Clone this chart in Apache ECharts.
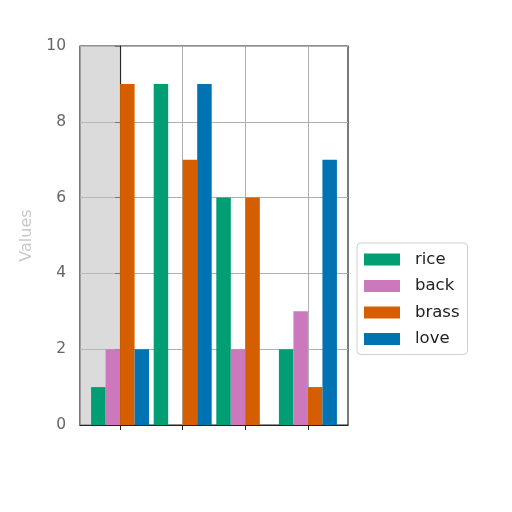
<!DOCTYPE html>
<html><head><meta charset="utf-8">
<script src="https://cdn.jsdelivr.net/npm/echarts@6/dist/echarts.min.js"></script>
<style>html,body{margin:0;padding:0;background:#fff}#c{width:512px;height:512px}</style>
</head><body><div id="c"></div>
<script>
const groups = [0, 1, 2, 3];
const seriesNames = ['rice', 'back', 'brass', 'love'];
const rice  = [1, 9, 6, 2];
const back  = [2, 0, 2, 3];
const brass = [9, 7, 6, 1];
const love  = [2, 9, 0, 7];
const yTicks = [0, 2, 4, 6, 8, 10];
const colors = ['#029E73', '#CC78BC', '#D55E00', '#0173B2'];
const values = [rice, back, brass, love];

const chart = echarts.init(document.getElementById('c'));
chart.setOption({
  animation: false,
  grid: { left: 80, right: 164, top: 46, bottom: 87, show: true, borderColor: '#222', borderWidth: 1.2, backgroundColor: 'transparent' },
  legend: {
    orient: 'vertical', left: 357, top: 243,
    data: seriesNames,
    itemWidth: 36, itemHeight: 12, itemGap: 9.5,
    padding: [8, 8, 7, 7],
    borderColor: '#cfcfcf', borderWidth: 1, borderRadius: 4,
    textStyle: { fontFamily: 'DejaVu Sans', fontSize: 16.5, color: '#222', padding: [0, 0, 0, 10] },
    icon: 'rect'
  },
  xAxis: {
    type: 'value', min: -0.64, max: 3.64, interval: 1,
    axisLine: { show: true, lineStyle: { color: '#222', width: 1.2 } },
    axisTick: { show: true, length: 5, lineStyle: { color: '#222' }, customValues: groups },
    axisLabel: { show: false },
    splitLine: { show: true, lineStyle: { color: '#b0b0b0', width: 1 }, customValues: groups }
  },
  yAxis: {
    type: 'value', min: 0, max: 10, interval: 2,
    name: 'Values', nameLocation: 'middle', nameGap: 45,
    nameTextStyle: { color: '#c8c8c8', fontSize: 16, fontFamily: 'DejaVu Sans' },
    axisLine: { show: true, lineStyle: { color: '#222', width: 1.2 } },
    axisTick: { show: true, length: 5, lineStyle: { color: '#222' } },
    axisLabel: { color: '#666', fontSize: 15.5, fontFamily: 'DejaVu Sans', margin: 14,
      formatter: v => yTicks.includes(v) ? String(v) : '' },
    splitLine: { show: true, lineStyle: { color: '#b0b0b0', width: 1 } }
  },
  series: seriesNames.map((n, i) => ({
    name: n, type: 'bar', barWidth: 14.5, barGap: '0%',
    itemStyle: { color: colors[i] },
    data: groups.map((g, j) => [g, values[i][j]]),
    markArea: i === 0 ? {
      silent: true,
      itemStyle: { color: 'rgba(190,190,190,0.55)' },
      data: [[{ xAxis: -0.64, yAxis: 0 }, { xAxis: 0, yAxis: 10 }]]
    } : undefined
  }))
});
</script></body></html>
